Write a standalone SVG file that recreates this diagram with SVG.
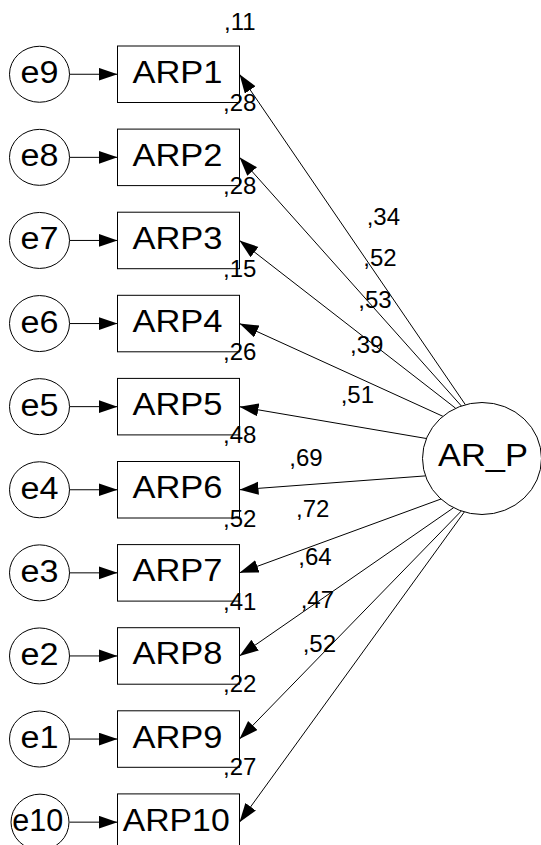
<svg xmlns="http://www.w3.org/2000/svg" width="541" height="845" viewBox="0 0 541 845">
<style>
.box{fill:#fff;stroke:#000;stroke-width:1}
.el{fill:#fff;stroke:#000;stroke-width:1}
.big{font-family:"Liberation Sans",Arial,sans-serif;font-size:31px;fill:#000}
.lbl{font-family:"Liberation Sans",Arial,sans-serif;font-size:24px;fill:#000}
.cn{stroke:#000;stroke-width:1;fill:none;marker-end:url(#arr)}
</style>
<defs>
<marker id="arr" markerUnits="userSpaceOnUse" markerWidth="20" markerHeight="14" refX="19" refY="6.5" orient="auto">
<path d="M0,0 L19,6.5 L0,13 Z" fill="#000"/>
</marker>
</defs>
<rect width="541" height="845" fill="#fff"/>
<g id="connectors">
<line class="cn" x1="69.5" y1="74.25" x2="117.5" y2="74.25"/>
<line class="cn" x1="69.5" y1="157.35" x2="117.5" y2="157.35"/>
<line class="cn" x1="69.5" y1="240.45" x2="117.5" y2="240.45"/>
<line class="cn" x1="69.5" y1="323.55" x2="117.5" y2="323.55"/>
<line class="cn" x1="69.5" y1="406.65" x2="117.5" y2="406.65"/>
<line class="cn" x1="69.5" y1="489.75" x2="117.5" y2="489.75"/>
<line class="cn" x1="69.5" y1="572.85" x2="117.5" y2="572.85"/>
<line class="cn" x1="69.5" y1="655.95" x2="117.5" y2="655.95"/>
<line class="cn" x1="69.5" y1="739.05" x2="117.5" y2="739.05"/>
<line class="cn" x1="69.5" y1="822.15" x2="117.5" y2="822.15"/>
<line class="cn" x1="465.4" y1="404.7" x2="239.5" y2="74.25"/>
<line class="cn" x1="461.4" y1="406.0" x2="239.5" y2="157.35"/>
<line class="cn" x1="455.7" y1="408.3" x2="239.5" y2="240.45"/>
<line class="cn" x1="442.9" y1="416.3" x2="239.5" y2="323.55"/>
<line class="cn" x1="426.4" y1="438.5" x2="239.5" y2="406.65"/>
<line class="cn" x1="425.4" y1="475.9" x2="239.5" y2="489.75"/>
<line class="cn" x1="441.0" y1="499.0" x2="239.5" y2="572.85"/>
<line class="cn" x1="453.6" y1="507.7" x2="239.5" y2="655.95"/>
<line class="cn" x1="461.3" y1="511.0" x2="239.5" y2="739.05"/>
<line class="cn" x1="464.3" y1="512.0" x2="239.5" y2="822.15"/>
</g>
<g id="AR_P">
<ellipse class="el" cx="482" cy="458.5" rx="59.5" ry="56"/>
<text class="big" x="438" y="466" textLength="90" lengthAdjust="spacingAndGlyphs">AR_P</text>
</g>
<g id="ARP1"><rect class="box" x="117.5" y="46" width="122" height="56.5"/><text class="big" x="132.5" y="82.75" textLength="90" lengthAdjust="spacingAndGlyphs">ARP1</text></g>
<g id="ARP2"><rect class="box" x="117.5" y="129.1" width="122" height="56.5"/><text class="big" x="132.5" y="165.85" textLength="90" lengthAdjust="spacingAndGlyphs">ARP2</text></g>
<g id="ARP3"><rect class="box" x="117.5" y="212.2" width="122" height="56.5"/><text class="big" x="132.5" y="248.95" textLength="90" lengthAdjust="spacingAndGlyphs">ARP3</text></g>
<g id="ARP4"><rect class="box" x="117.5" y="295.3" width="122" height="56.5"/><text class="big" x="132.5" y="332.05" textLength="90" lengthAdjust="spacingAndGlyphs">ARP4</text></g>
<g id="ARP5"><rect class="box" x="117.5" y="378.4" width="122" height="56.5"/><text class="big" x="132.5" y="415.15" textLength="90" lengthAdjust="spacingAndGlyphs">ARP5</text></g>
<g id="ARP6"><rect class="box" x="117.5" y="461.5" width="122" height="56.5"/><text class="big" x="132.5" y="498.25" textLength="90" lengthAdjust="spacingAndGlyphs">ARP6</text></g>
<g id="ARP7"><rect class="box" x="117.5" y="544.6" width="122" height="56.5"/><text class="big" x="132.5" y="581.35" textLength="90" lengthAdjust="spacingAndGlyphs">ARP7</text></g>
<g id="ARP8"><rect class="box" x="117.5" y="627.7" width="122" height="56.5"/><text class="big" x="132.5" y="664.45" textLength="90" lengthAdjust="spacingAndGlyphs">ARP8</text></g>
<g id="ARP9"><rect class="box" x="117.5" y="710.8" width="122" height="56.5"/><text class="big" x="132.5" y="747.55" textLength="90" lengthAdjust="spacingAndGlyphs">ARP9</text></g>
<g id="ARP10"><rect class="box" x="117.5" y="793.9" width="122" height="56.5"/><text class="big" x="122.7" y="830.65" textLength="107" lengthAdjust="spacingAndGlyphs">ARP10</text></g>
<g id="e9"><ellipse class="el" cx="39.5" cy="74.25" rx="30" ry="28"/><text class="big" x="20.5" y="83.25" textLength="38" lengthAdjust="spacingAndGlyphs">e9</text></g>
<g id="e8"><ellipse class="el" cx="39.5" cy="157.35" rx="30" ry="28"/><text class="big" x="20.5" y="166.35" textLength="38" lengthAdjust="spacingAndGlyphs">e8</text></g>
<g id="e7"><ellipse class="el" cx="39.5" cy="240.45" rx="30" ry="28"/><text class="big" x="20.5" y="249.45" textLength="38" lengthAdjust="spacingAndGlyphs">e7</text></g>
<g id="e6"><ellipse class="el" cx="39.5" cy="323.55" rx="30" ry="28"/><text class="big" x="20.5" y="332.55" textLength="38" lengthAdjust="spacingAndGlyphs">e6</text></g>
<g id="e5"><ellipse class="el" cx="39.5" cy="406.65" rx="30" ry="28"/><text class="big" x="20.5" y="415.65" textLength="38" lengthAdjust="spacingAndGlyphs">e5</text></g>
<g id="e4"><ellipse class="el" cx="39.5" cy="489.75" rx="30" ry="28"/><text class="big" x="20.5" y="498.75" textLength="38" lengthAdjust="spacingAndGlyphs">e4</text></g>
<g id="e3"><ellipse class="el" cx="39.5" cy="572.85" rx="30" ry="28"/><text class="big" x="20.5" y="581.85" textLength="38" lengthAdjust="spacingAndGlyphs">e3</text></g>
<g id="e2"><ellipse class="el" cx="39.5" cy="655.95" rx="30" ry="28"/><text class="big" x="20.5" y="664.95" textLength="38" lengthAdjust="spacingAndGlyphs">e2</text></g>
<g id="e1"><ellipse class="el" cx="39.5" cy="739.05" rx="30" ry="28"/><text class="big" x="20.5" y="748.05" textLength="38" lengthAdjust="spacingAndGlyphs">e1</text></g>
<g id="e10"><ellipse class="el" cx="40" cy="822.15" rx="29" ry="28"/><text class="big" x="12.3" y="831.15" textLength="51" lengthAdjust="spacingAndGlyphs">e10</text></g>
<g id="labels">
<text class="lbl" x="224" y="30">,11</text>
<text class="lbl" x="223" y="111">,28</text>
<text class="lbl" x="223" y="193.5">,28</text>
<text class="lbl" x="223" y="276.7">,15</text>
<text class="lbl" x="223" y="360">,26</text>
<text class="lbl" x="223" y="443.3">,48</text>
<text class="lbl" x="223" y="526.7">,52</text>
<text class="lbl" x="223" y="610">,41</text>
<text class="lbl" x="223" y="692">,22</text>
<text class="lbl" x="223" y="775">,27</text>
<text class="lbl" x="366.7" y="225">,34</text>
<text class="lbl" x="363.3" y="266">,52</text>
<text class="lbl" x="358.3" y="308.3">,53</text>
<text class="lbl" x="350" y="353.3">,39</text>
<text class="lbl" x="340.7" y="403.3">,51</text>
<text class="lbl" x="289.3" y="466">,69</text>
<text class="lbl" x="296" y="517">,72</text>
<text class="lbl" x="298.3" y="565">,64</text>
<text class="lbl" x="300.7" y="608.3">,47</text>
<text class="lbl" x="302.7" y="651.7">,52</text>
</g>
</svg>
